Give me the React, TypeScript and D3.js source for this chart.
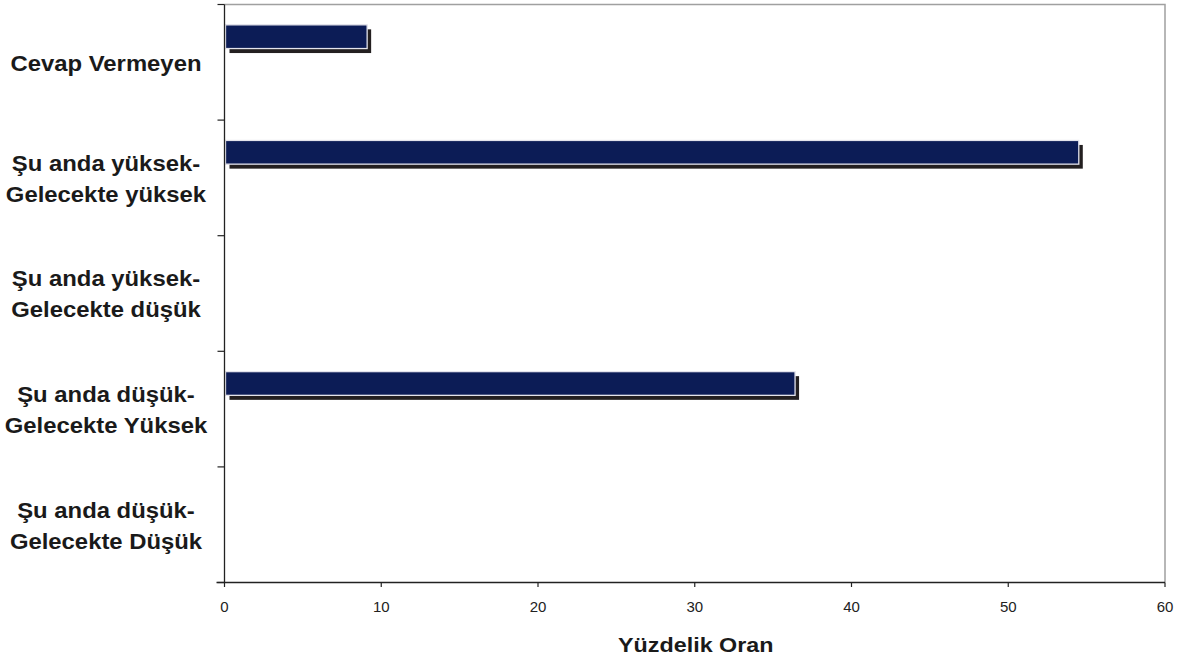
import React from "react";
import * as d3 from "d3";

const categories: string[][] = [
  ["Cevap Vermeyen"],
  ["Şu anda yüksek-", "Gelecekte yüksek"],
  ["Şu anda yüksek-", "Gelecekte düşük"],
  ["Şu anda düşük-", "Gelecekte Yüksek"],
  ["Şu anda düşük-", "Gelecekte Düşük"],
];
const values: number[] = [9.1, 54.5, 0, 36.4, 0];
const xTicks: number[] = [0, 10, 20, 30, 40, 50, 60];
const xTitle = "Yüzdelik Oran";

export default function App() {
  const W = 1186, H = 662;
  const left = 224.5, right = 1165, top = 4.5, bottom = 582.5;
  const x = d3.scaleLinear().domain([0, 60]).range([left, right]);
  const y = d3.scaleBand<number>().domain(d3.range(categories.length)).range([top, bottom]).padding(0);
  const bw = y.bandwidth();
  const font = "Liberation Sans, Arial, sans-serif";
  const sx = 1.11;
  return (
    <svg width={W} height={H} style={{ position: "absolute", left: 0, top: 0, background: "#fff" }}>
      {/* top/right frame */}
      <path d={`M${left},${top}H${right}V${bottom}`} fill="none" stroke="#a0a0a0" strokeWidth={1.5} />
      {/* bars */}
      {values.map((v, i) => {
        if (v <= 0) return null;
        const by = (y(i) as number) + bw * 0.176;
        const bh = bw * 0.205;
        const bx = x(0) + 1;
        const w = x(v) - bx;
        return (
          <g key={i}>
            <rect x={bx + 4} y={by + 4.5} width={w} height={bh} fill="#231f20" />
            <rect x={bx} y={by} width={w} height={bh} fill="#0c1c56" stroke="#e4e4ec" strokeWidth={1.3} />
          </g>
        );
      })}
      {/* axes */}
      <line x1={left} x2={left} y1={top} y2={bottom} stroke="#222" strokeWidth={1.3} />
      <line x1={left - 8} x2={right} y1={bottom} y2={bottom} stroke="#222" strokeWidth={1.3} />
      {d3.range(categories.length + 1).map((i) => {
        const yy = top + i * bw;
        return <line key={i} x1={left - 7} x2={left} y1={yy} y2={yy} stroke="#222" strokeWidth={1.2} />;
      })}
      {xTicks.map((t) => (
        <g key={t}>
          <line x1={x(t)} x2={x(t)} y1={bottom} y2={bottom + 4.5} stroke="#222" strokeWidth={1.2} />
          <text x={x(t)} y={bottom + 29.5} textAnchor="middle" fontFamily={font} fontSize={15} fill="#222">
            {t}
          </text>
        </g>
      ))}
      {/* category labels */}
      {categories.map((lines, i) => {
        const cy = (y(i) as number) + bw / 2;
        const lh = 31;
        return (
          <g key={i} transform={`translate(106,0) scale(${sx},1)`}>
            <text textAnchor="middle" fontFamily={font} fontSize={21.5} fontWeight="bold" fill="#1a1a1a">
              {lines.map((l, j) => (
                <tspan key={j} x={0} y={cy + (j - (lines.length - 1) / 2) * lh + 8.5}>
                  {l}
                </tspan>
              ))}
            </text>
          </g>
        );
      })}
      <g transform={`translate(${(left + right) / 2 + 1},651.5) scale(${sx},1)`}>
        <text x={0} y={0} textAnchor="middle" fontFamily={font} fontSize={21} fontWeight="bold" fill="#1a1a1a">
          {xTitle}
        </text>
      </g>
    </svg>
  );
}
